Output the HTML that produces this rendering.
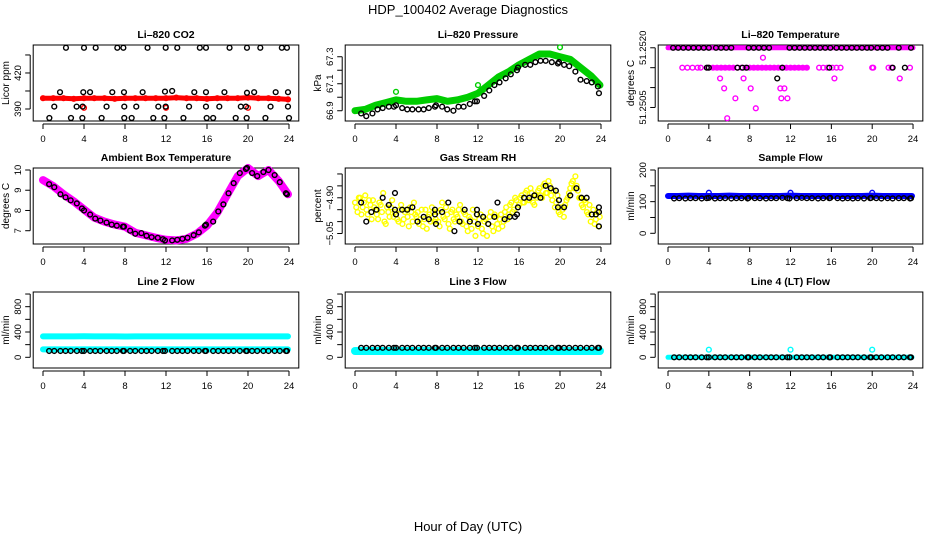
<!DOCTYPE html>
<html><head><meta charset="utf-8"><style>
html,body{margin:0;padding:0;background:#fff;}
svg{display:block;font-family:"Liberation Sans",sans-serif;}
</style></head><body>
<svg id="chart" width="936" height="540" viewBox="0 0 936 540" xmlns="http://www.w3.org/2000/svg">
<rect width="936" height="540" fill="#fff"/>
<text x="468" y="14" font-size="13" text-anchor="middle">HDP_100402  Average Diagnostics</text>
<text x="468" y="531" font-size="13" text-anchor="middle">Hour of Day (UTC)</text>
</svg>
<script>
const xTicks=[0,4,8,12,16,20,24];
const hourly=[0,1,2,3,4,5,6,7,8,9,10,11,12,13,14,15,16,17,18,19,20,21,22,23,23.9];
const blackHours=[0.6,1.1,1.7,2.2,2.7,3.3,3.8,4.0,4.6,5.1,5.6,6.2,6.7,7.2,7.8,7.9,8.5,9.0,9.6,10.1,10.6,11.2,11.7,11.9,12.6,13.1,13.6,14.1,14.7,15.2,15.8,15.9,16.6,17.1,17.6,18.1,18.6,19.2,19.8,19.9,20.4,20.9,21.5,22.0,22.6,23.1,23.7,23.8];

// CO2
const co2Red=[399,399,399,398.5,399,399,399,398.5,399,399,399,399,399,399.5,399,399,398.5,399,399,399,399.5,399,399,398.5,398];
const co2RedOutH=[4.0,12.0,20.0];
const co2RedOutV=[391,391,391];
const co2BlackH=[2.24,4.0,5.14,7.25,7.84,10.2,11.97,13.1,15.3,15.9,18.2,19.9,21.2,23.3,23.8,
1.66,3.93,4.59,6.76,7.9,9.72,11.9,12.6,14.76,15.9,17.7,19.9,20.6,22.7,23.9,
1.1,3.28,3.87,6.2,7.93,9.1,11.25,11.97,14.25,15.9,17.2,19.3,19.8,22.2,23.9,
0.62,2.73,3.84,5.72,7.93,8.65,10.76,11.84,13.7,15.97,16.6,18.8,19.87,21.7,24.0];
const co2BlackV=[441,441,441,441,441,441,441,441,441,441,441,441,441,441,441,
404,404,404,404,404,404,404.5,405,404,404,404,403.5,404,404,404,
392,392,392,392,392,392,392,392,392,392,392,392,392,392,392,
382.5,382.5,382.5,382.5,382.5,382.5,382.5,382.5,382.5,382.5,382.5,382.5,382.5,382.5,382.5];

// Pressure
const presGreen=[66.90,66.91,66.94,66.96,66.98,66.97,66.97,66.98,66.99,66.97,66.98,67.00,67.03,67.09,67.15,67.19,67.24,67.28,67.32,67.32,67.30,67.28,67.22,67.16,67.09];
const presGreenOutH=[4.0,12.0,20.0];
const presGreenOutV=[67.04,67.09,67.37];
const presBlack=[66.88,66.86,66.88,66.91,66.92,66.93,66.93,66.94,66.92,66.91,66.91,66.91,66.91,66.92,66.93,66.94,66.93,66.91,66.90,66.93,66.93,66.95,66.97,66.97,67.01,67.05,67.09,67.11,67.14,67.17,67.20,67.22,67.24,67.24,67.26,67.27,67.27,67.26,67.25,67.26,67.24,67.23,67.19,67.13,67.12,67.11,67.08,67.03];

// Li-820 temperature
const tempTopH=[0,24];
const tempTopV=[51.2520,51.2520];
const tempMagH=[1.4,1.9,2.4,2.9,3.2,3.9,4.4,4.8,5.2,5.6,6.0,6.4,6.8,7.2,7.6,8.0,8.4,8.8,9.2,9.6,10.0,10.4,10.8,11.2,11.6,12.0,12.4,12.8,13.2,13.6,14.8,15.2,15.6,16.1,16.5,16.9,20.0,20.1,21.6,21.9,23.7];
const tempMagV=[51.2515,51.2515,51.2515,51.2515,51.2515,51.2515,51.2515,51.2515,51.2515,51.2515,51.2515,51.2515,51.2515,51.2515,51.2515,51.2515,51.2515,51.2515,51.2515,51.2515,51.2515,51.2515,51.2515,51.2515,51.2515,51.2515,51.2515,51.2515,51.2515,51.2515,51.2515,51.2515,51.2515,51.2515,51.2515,51.2515,51.2515,51.2515,51.2515,51.2515,51.2515];
const tempOutH=[5.1,5.5,6.6,5.8,7.4,8.1,8.6,9.3,11.0,11.4,11.1,11.7,16.3,22.7];
const tempOutV=[51.25123,51.25098,51.25073,51.25023,51.25123,51.25098,51.25048,51.25175,51.25098,51.25098,51.25073,51.25073,51.25123,51.25123];
const tempBlackH=[0.5,1.0,1.5,2.0,2.5,3.0,3.5,4.0,4.7,5.2,5.7,6.2,7.9,8.4,8.9,9.4,9.9,11.9,12.4,12.9,13.4,13.9,14.4,14.9,15.4,15.9,16.5,17.0,17.5,18.0,18.5,19.0,19.5,19.9,20.5,21.0,21.5,22.6,23.8,3.8,4.0,6.8,7.3,7.7,11.2,15.8,22.0,23.2,10.7];
const tempBlackV=[51.2520,51.2520,51.2520,51.2520,51.2520,51.2520,51.2520,51.2520,51.2520,51.2520,51.2520,51.2520,51.2520,51.2520,51.2520,51.2520,51.2520,51.2520,51.2520,51.2520,51.2520,51.2520,51.2520,51.2520,51.2520,51.2520,51.2520,51.2520,51.2520,51.2520,51.2520,51.2520,51.2520,51.2520,51.2520,51.2520,51.2520,51.2520,51.2520,51.2515,51.2515,51.2515,51.2515,51.2515,51.2515,51.2515,51.2515,51.2515,51.25123];

// Ambient box temperature
const ambMag=[9.5,9.2,8.8,8.45,8.05,7.65,7.45,7.3,7.2,6.9,6.78,6.65,6.55,6.52,6.6,6.85,7.25,7.9,8.8,9.7,10.1,9.7,10.0,9.45,8.8];
const ambBlack=[9.3,9.15,8.8,8.65,8.5,8.35,8.1,8.0,7.8,7.6,7.5,7.4,7.3,7.25,7.2,7.2,7.0,6.85,6.88,6.75,6.68,6.65,6.58,6.52,6.52,6.55,6.6,6.65,6.78,6.92,7.25,7.3,7.45,7.95,8.3,8.85,9.35,9.85,10.05,10.1,9.85,9.7,9.9,10.0,9.75,9.4,8.85,8.8];

// Gas stream RH
const rhYellowA=[-4.92,-4.96,-4.90,-4.94,-4.89,-4.97,-4.93,-4.91,-4.95,-4.99,-4.93,-4.88,-5.01,-4.96,-4.94,-4.98,-4.97,-5.00,-4.93,-4.99,-4.95,-5.02,-4.96,-4.92,-4.98,-5.01,-4.95,-4.99,-5.03,-4.97,-4.94,-5.00,-4.96,-5.02,-4.92,-4.99,-4.97,-5.03,-4.95,-5.00,-4.98,-4.93,-5.01,-4.97,-5.04,-4.99,-4.95,-5.06,-5.02,-4.97,-5.05,-4.99,-5.01,-4.96,-5.04,-4.98,-5.03,-4.97,-5.00,-4.94,-4.97,-4.92,-4.95,-4.91,-4.93,-4.89,-4.92,-4.87,-4.91,-4.88,-4.93,-4.90,-4.86,-4.90,-4.84,-4.88,-4.85,-4.91,-4.94,-4.89,-4.97,-4.95,-4.93,-4.90,-4.86,-4.83,-4.81,-4.87,-4.90,-4.94,-4.92,-4.97,-5.00,-4.95,-4.99,-5.02];
const rhYellowB=[-4.94,-4.90,-4.97,-4.92,-4.95,-4.91,-4.99,-4.94,-4.97,-4.92,-4.96,-5.00,-4.94,-4.98,-4.91,-4.96,-4.99,-4.95,-5.01,-4.96,-4.98,-4.94,-5.00,-4.97,-4.96,-4.99,-5.02,-4.95,-4.98,-5.00,-4.96,-4.99,-5.00,-4.95,-4.98,-4.94,-5.01,-4.96,-4.99,-4.97,-4.95,-5.00,-4.96,-5.02,-4.98,-5.03,-5.00,-4.97,-4.99,-5.03,-5.00,-5.06,-4.98,-5.02,-4.97,-5.01,-4.99,-5.02,-4.96,-4.99,-4.93,-4.96,-4.90,-4.94,-4.90,-4.92,-4.88,-4.91,-4.86,-4.92,-4.89,-4.87,-4.89,-4.85,-4.88,-4.83,-4.89,-4.87,-4.92,-4.96,-4.94,-4.98,-4.91,-4.88,-4.84,-4.86,-4.85,-4.90,-4.93,-4.91,-4.96,-4.93,-4.97,-5.01,-4.96,-4.98];
const rhBlackH=[0.6,1.1,1.6,2.1,2.7,3.3,3.9,3.9,4.0,4.6,5.1,5.6,6.1,6.7,7.2,7.8,7.8,7.9,8.5,9.1,9.7,10.2,10.7,11.2,11.9,11.9,12.0,12.5,13.0,13.6,13.9,14.6,15.1,15.6,15.8,15.9,16.5,17.0,17.5,18.1,18.6,19.1,19.6,19.8,19.9,20.4,21.0,21.6,22.1,22.6,23.1,23.5,23.8,23.8,23.8];
const rhBlackV=[-4.92,-5.00,-4.96,-4.95,-4.90,-4.93,-4.95,-4.88,-4.97,-4.95,-4.95,-4.94,-5.00,-4.98,-4.99,-4.95,-4.97,-5.01,-4.96,-4.92,-5.04,-5.00,-4.95,-5.00,-4.95,-4.97,-5.01,-4.98,-5.01,-4.98,-4.92,-4.99,-4.98,-4.98,-4.97,-4.94,-4.90,-4.90,-4.89,-4.90,-4.85,-4.86,-4.87,-4.94,-4.91,-4.94,-4.89,-4.86,-4.90,-4.90,-4.97,-4.97,-4.94,-4.96,-5.02];

// Flows
const sampleBlue=[118,118,119,118,118,118,119,118,118,118,118,118,119,118,118,118,118,118,118,118,119,118,118,118,118];
const sampleBlueOutH=[4.0,12.0,20.0];
const sampleBlueOutV=[128,128,128];
const sampleBlack=[110,111,110,111,111,110,111,112,110,111,111,110,111,111,110,112,111,111,110,111,111,112,111,110,111,112,111,111,110,111,111,112,111,110,111,110,111,110,111,112,111,110,111,110,111,111,110,111];
const line2CyanHi=[330,330,330,330,332,330,330,330,328,330,330,330,330,330,330,330,330,330,330,330,330,330,330,330,330];
const line2CyanLo=[125,125,125,125,125,125,125,125,125,125,125,125,125,125,125,125,125,125,125,125,125,125,125,125,125];
const line2Black=[100,100,100,100,100,100,100,100,100,100,100,100,100,100,100,100,100,100,100,100,100,100,100,100,100,100,100,100,100,100,100,100,100,100,100,100,100,100,100,100,100,100,100,100,100,100,100,100];
const line3Cyan=[100,100,100,100,100,100,100,100,100,100,100,100,100,100,100,100,100,100,100,100,100,100,100,100,100];
const line3Black=[150,150,150,150,150,150,150,150,150,150,150,150,150,150,150,150,150,150,150,150,150,150,150,150,150,150,150,150,150,150,150,150,150,150,150,150,150,150,150,150,150,150,150,150,150,150,150,150];
const line4Cyan=[0,0,0,0,0,0,0,0,0,0,0,0,0,0,0,0,0,0,0,0,0,0,0,0,0];
const line4CyanOutH=[4.0,12.0,20.0];
const line4CyanOutV=[120,120,120];
const line4Black=[0,0,0,0,0,0,0,0,0,0,0,0,0,0,0,0,0,0,0,0,0,0,0,0,0,0,0,0,0,0,0,0,0,0,0,0,0,0,0,0,0,0,0,0,0,0,0,0];

const NS='http://www.w3.org/2000/svg';
const svg=document.getElementById('chart');
const colX0=[43,355,668], colPPH=[10.25,10.25,10.21];
const rowTop=[45,168,292], boxH=76;

function mk(tag,attrs,parent){const e=document.createElementNS(NS,tag);for(const k in attrs)e.setAttribute(k,attrs[k]);(parent||svg).appendChild(e);return e;}

function panel(slug,col,row,ylim,yTicks,yLabels,title,ytitle){
  const g=mk('g',{});
  
  
  const x0=colX0[col],pph=colPPH[col];
  const L=x0-9.8,R=x0+24*pph+9.8,T=rowTop[row],B=T+boxH;
  const xs=h=>x0+h*pph;
  const ys=v=>B-(v-ylim[0])/(ylim[1]-ylim[0])*boxH;
  const t=mk('text',{x:(L+R)/2,y:T-7,'font-size':10.5,'font-weight':'bold','text-anchor':'middle'},g);
  t.textContent=title;
  
  
  const box=mk('rect',{x:L,y:T,width:R-L,height:boxH,fill:'none',stroke:'#000','stroke-width':1},g);
  
  
  const xa=mk('g',{},g);
  
  
  mk('line',{x1:xs(0),x2:xs(24),y1:B+3,y2:B+3,stroke:'#000'},xa);
  xTicks.forEach(v=>{
    mk('line',{x1:xs(v),x2:xs(v),y1:B+3,y2:B+8,stroke:'#000'},xa);
    const tl=mk('text',{x:xs(v),y:B+21,'font-size':9.5,'text-anchor':'middle'},xa);
    tl.textContent=v;
    
    
  });
  const ya=mk('g',{},g);
  
  
  mk('line',{x1:L-3,x2:L-3,y1:ys(yTicks[0]),y2:ys(yTicks[yTicks.length-1]),stroke:'#000'},ya);
  yTicks.forEach((v,i)=>{
    const y=ys(v);
    mk('line',{x1:L-8,x2:L-3,y1:y,y2:y,stroke:'#000'},ya);
    if(yLabels[i]!==''){
      const tl=mk('text',{x:L-12,y:y,'font-size':9.5,'text-anchor':'middle',transform:`rotate(-90 ${L-12} ${y})`},ya);
      tl.textContent=yLabels[i];
      
      
    }
  });
  const yt=mk('text',{x:L-24,y:(T+B)/2,'font-size':10,'text-anchor':'middle',transform:`rotate(-90 ${L-24} ${(T+B)/2})`},g);
  yt.textContent=ytitle;
  
  
  return {g,xs,ys};
}
function band(p,name,hs,vs,color,w){
  const d=hs.map((h,i)=>(i?'L':'M')+p.xs(h).toFixed(1)+' '+p.ys(vs[i]).toFixed(1)).join(' ');
  const e=mk('path',{d:d,fill:'none',stroke:color,'stroke-width':w,'stroke-linejoin':'round','stroke-linecap':'round'},p.g);
  
  
}
function pts(p,name,hs,vs,color){
  const g=mk('g',{},p.g);
  
  
  hs.forEach((h,i)=>{
    const c=mk('circle',{cx:p.xs(h),cy:p.ys(vs[i]),r:2.4,fill:'none',stroke:color,'stroke-width':1.4},g);
    
    
  });
}
function uniform(step,n,off){const a=[];for(let i=0;i<n;i++)a.push(off+i*step);return a;}

let p=panel('co2',0,0,[380,443.3],[390,405,420,435],['390','','420',''],'Li\u2013820 CO2','Licor ppm');
band(p,'co2-red-band',hourly,co2Red,'#ff0000',5);
pts(p,'co2-red-series',hourly,co2Red,'#ff0000');
pts(p,'co2-red-outliers',co2RedOutH,co2RedOutV,'#ff0000');
pts(p,'co2-black-series',co2BlackH,co2BlackV,'#000');

p=panel('pressure',1,0,[66.824,67.387],[66.9,67.0,67.1,67.2,67.3],['66.9','','67.1','','67.3'],'Li\u2013820 Pressure','kPa');
band(p,'pressure-green-band',hourly,presGreen,'#00cd00',7);
pts(p,'pressure-green-series',hourly,presGreen,'#00cd00');
pts(p,'pressure-green-outliers',presGreenOutH,presGreenOutV,'#00cd00');
pts(p,'pressure-black-series',blackHours,presBlack,'#000');

p=panel('li820-temp',2,0,[51.25016,51.25207],[51.2505,51.2510,51.2515,51.2520],['51.2505','','','51.2520'],'Li\u2013820 Temperature','degrees C');
band(p,'temp-magenta-band',tempTopH,tempTopV,'#ff00ff',5);
pts(p,'temp-magenta-mid',tempMagH,tempMagV,'#ff00ff');
band(p,'temp-magenta-mid-band1',[4.4,6.4],[51.2515,51.2515],'#ff00ff',5);
band(p,'temp-magenta-mid-band2',[7.8,13.6],[51.2515,51.2515],'#ff00ff',5);
pts(p,'temp-magenta-outliers',tempOutH,tempOutV,'#ff00ff');
pts(p,'temp-black-series',tempBlackH,tempBlackV,'#000');

p=panel('ambient-temp',0,1,[6.343,10.099],[7,8,9,10],['7','8','9','10'],'Ambient Box Temperature','degrees C');
band(p,'ambient-magenta-band',hourly,ambMag,'#ff00ff',8);
pts(p,'ambient-magenta-series',hourly,ambMag,'#ff00ff');
pts(p,'ambient-black-series',blackHours,ambBlack,'#000');

p=panel('rh',1,1,[-5.094,-4.775],[-5.05,-5.00,-4.95,-4.90,-4.85,-4.80],['\u22125.05','','','\u22124.90','',''],'Gas Stream RH','percent');
pts(p,'rh-yellow-series-a',uniform(0.25,96,0),rhYellowA,'#ffff00');
pts(p,'rh-yellow-series-b',uniform(0.25,96,0.125),rhYellowB,'#ffff00');
pts(p,'rh-black-series',rhBlackH,rhBlackV,'#000');

p=panel('sample-flow',2,1,[-33.8,206.3],[0,50,100,150,200],['0','','100','','200'],'Sample Flow','ml/min');
band(p,'sample-blue-band',hourly,sampleBlue,'#0000ff',6);
pts(p,'sample-blue-outliers',sampleBlueOutH,sampleBlueOutV,'#0000ff');
pts(p,'sample-black-series',blackHours,sampleBlack,'#000');

const fl=[-169,1032],ft=[0,200,400,600,800,1000],fll=['0','','400','','800',''];
p=panel('line2-flow',0,2,fl,ft,fll,'Line 2 Flow','ml/min');
band(p,'line2-cyan-high-band',hourly,line2CyanHi,'#00ffff',6);
band(p,'line2-cyan-low-band',hourly,line2CyanLo,'#00ffff',6);
pts(p,'line2-black-series',blackHours,line2Black,'#000');

p=panel('line3-flow',1,2,fl,ft,fll,'Line 3 Flow','ml/min');
band(p,'line3-cyan-band',hourly,line3Cyan,'#00ffff',8);
pts(p,'line3-black-series',blackHours,line3Black,'#000');

p=panel('line4-flow',2,2,fl,ft,fll,'Line 4 (LT) Flow','ml/min');
band(p,'line4-cyan-band',hourly,line4Cyan,'#00ffff',5);
pts(p,'line4-cyan-outliers',line4CyanOutH,line4CyanOutV,'#00ffff');
pts(p,'line4-black-series',blackHours,line4Black,'#000');
</script>
</body></html>
